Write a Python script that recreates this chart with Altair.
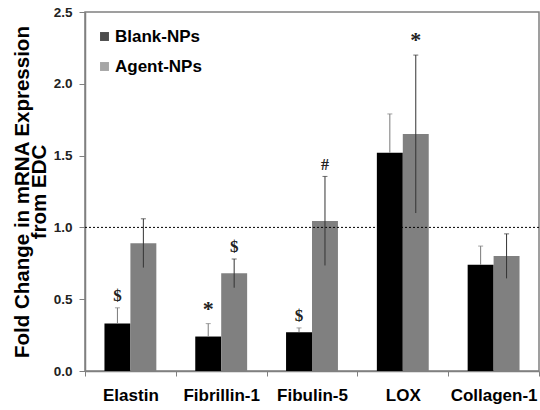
import altair as alt
import pandas as pd

categories = ["Elastin", "Fibrillin-1", "Fibulin-5", "LOX", "Collagen-1"]
groups = ["Blank-NPs", "Agent-NPs"]
blank_mean = [0.33, 0.24, 0.27, 1.52, 0.74]
blank_err = [0.11, 0.09, 0.03, 0.27, 0.13]
agent_mean = [0.89, 0.68, 1.045, 1.65, 0.80]
agent_err = [0.17, 0.10, 0.31, 0.55, 0.155]
blank_marks = ["$", "*", "$", "", ""]
agent_marks = ["", "$", "#", "*", ""]
ref_line = [1.0]
y_ticks = [0.0, 0.5, 1.0, 1.5, 2.0, 2.5]
mark_sizes = {"$": 17, "#": 16, "*": 22, "": 12}

rows = []
for i, c in enumerate(categories):
    rows.append(dict(cat=c, grp="Blank-NPs", mean=blank_mean[i],
                     lo=blank_mean[i], hi=blank_mean[i] + blank_err[i],
                     mark=blank_marks[i], fs=mark_sizes[blank_marks[i]],
                     ecolor="#7a7a7a"))
    rows.append(dict(cat=c, grp="Agent-NPs", mean=agent_mean[i],
                     lo=agent_mean[i] - agent_err[i], hi=agent_mean[i] + agent_err[i],
                     mark=agent_marks[i], fs=mark_sizes[agent_marks[i]],
                     ecolor="#333333"))
df = pd.DataFrame(rows)

x = alt.X("cat:N", sort=categories,
          scale=alt.Scale(paddingInner=0, paddingOuter=0),
          axis=alt.Axis(title=None, labelAngle=0, tickBand="extent",
                        labelFont="Liberation Sans", labelFontWeight="bold",
                        labelFontSize=17, labelColor="black",
                        domainColor="#808080", domainWidth=1.5,
                        tickColor="#808080", tickSize=5, labelPadding=11))
xo = alt.XOffset("grp:N", sort=groups,
                 scale=alt.Scale(paddingOuter=0.75, paddingInner=0))
yscale = alt.Scale(domain=[0, 2.5])
yaxis = alt.Axis(values=y_ticks, format=".1f", grid=False,
                 title=["Fold Change in mRNA Expression", "from EDC"],
                 titleFont="Liberation Sans", titleFontSize=20.5,
                 titleFontWeight="bold", titleColor="black", titleLineHeight=17,
                 titlePadding=4,
                 labelFont="Liberation Sans", labelFontWeight="bold",
                 labelFontSize=13.5, labelColor="#222222",
                 domainColor="#808080", domainWidth=1.5,
                 tickColor="#808080", tickSize=6, labelPadding=7)

base = alt.Chart(df)

bars = base.mark_bar().encode(
    x=x, xOffset=xo,
    y=alt.Y("mean:Q", scale=yscale, axis=yaxis),
    color=alt.Color("grp:N", sort=groups,
                    scale=alt.Scale(domain=groups, range=["#000000", "#808080"]),
                    legend=alt.Legend(title=None)),
)

errs = base.mark_rule(strokeWidth=1).encode(
    x=x, xOffset=xo,
    y=alt.Y("lo:Q", scale=yscale), y2="hi:Q",
    color=alt.Color("ecolor:N", scale=None),
)

caps = base.mark_tick(size=5, thickness=1).encode(
    x=x, xOffset=xo,
    y=alt.Y("hi:Q", scale=yscale),
    color=alt.Color("ecolor:N", scale=None),
)

labels = base.mark_text(baseline="bottom", dy=-3, font="Liberation Serif",
                        fontWeight="bold", color="#222222").encode(
    x=x, xOffset=xo,
    y=alt.Y("hi:Q", scale=yscale),
    text="mark:N",
    size=alt.Size("fs:Q", scale=None),
)

hline = alt.Chart(pd.DataFrame({"v": ref_line})).mark_rule(
    color="black", strokeDash=[2, 2], strokeWidth=1).encode(
    y=alt.Y("v:Q", scale=yscale))

chart = alt.layer(bars, hline, errs, caps, labels).properties(
    width=454, height=359,
    autosize=alt.AutoSizeParams(type="none"),
    padding={"left": 85, "top": 12, "right": 1, "bottom": 39},
).configure_view(stroke="#808080", strokeWidth=1.5).configure_legend(
    orient="none", legendX=11, legendY=16, padding=0,
    labelFont="Liberation Sans", labelFontSize=17, labelFontWeight="bold",
    labelColor="black", symbolType="square", symbolSize=80,
    symbolStrokeWidth=0, rowPadding=12, labelOffset=2,
)

chart.save("out.html", embed_options={"renderer": "svg", "actions": False})
